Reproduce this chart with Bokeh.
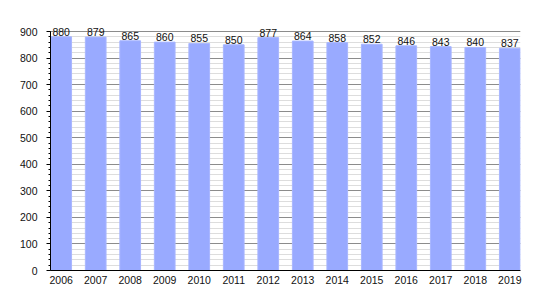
from bokeh.plotting import figure
from bokeh.models import ColumnDataSource, Range1d, FixedTicker, SingleIntervalTicker
from bokeh.embed import file_html
from bokeh.resources import INLINE
from bokeh.core.properties import value

years = ["2006", "2007", "2008", "2009", "2010", "2011", "2012",
         "2013", "2014", "2015", "2016", "2017", "2018", "2019"]
population = [880, 879, 865, 860, 855, 850, 877, 864, 858, 852, 846, 843, 840, 837]

xs = list(range(len(years)))
src = ColumnDataSource(dict(x=xs, y=population, label=[str(v) for v in population]))

# frame: 0 at y=270, 900 at y=31 -> extend range above 900 so labels fit
top_px = 15
frame_h = 270 - top_px
ymax = frame_h * 900 / 239

p = figure(width=550, height=300, output_backend="svg", toolbar_location=None,
           x_range=Range1d(-0.31, len(years) - 1 + 0.31), y_range=Range1d(0, ymax),
           min_border_left=50, min_border_right=30, min_border_top=top_px, min_border_bottom=30)
p.background_fill_color = "white"
p.border_fill_color = "white"
p.outline_line_color = None

p.vbar(x="x", top="y", width=0.6, bottom=0, source=src,
       fill_color="#99aaff", line_color="#a8b6ff", line_width=1)
p.text(x="x", y="y", text="label", source=src, text_align="center",
       text_baseline="alphabetic", y_offset=-5, text_font_size="10.5px",
       text_font=value("Liberation Sans"), text_color="#111111")

p.xaxis.ticker = FixedTicker(ticks=xs)
p.xaxis.major_label_overrides = {i: y for i, y in enumerate(years)}
p.xaxis.major_tick_line_color = None
p.xaxis.minor_tick_line_color = None
p.xaxis.axis_line_color = "black"
p.xaxis.major_label_text_font = "Liberation Sans"
p.xaxis.major_label_text_font_size = "10.5px"
p.xaxis.major_label_text_color = "#111111"
p.xaxis.major_label_standoff = -1

p.yaxis.ticker = SingleIntervalTicker(interval=100, num_minor_ticks=5)
p.yaxis.bounds = (0, 900)
p.yaxis.axis_line_color = "black"
p.yaxis.major_tick_in = 0
p.yaxis.major_tick_out = 4
p.yaxis.minor_tick_in = 0
p.yaxis.minor_tick_out = 2
p.yaxis.major_label_text_font = "Liberation Sans"
p.yaxis.major_label_text_font_size = "10.5px"
p.yaxis.major_label_text_color = "#111111"
p.yaxis.major_label_standoff = 9

p.xgrid.grid_line_color = None
p.ygrid.ticker = SingleIntervalTicker(interval=100, num_minor_ticks=5)
p.ygrid.bounds = (0, 900)
p.ygrid.grid_line_color = "#8c8c8c"
p.ygrid.grid_line_width = 1
p.ygrid.minor_grid_line_color = "#dddddd"

open("out.html", "w").write(file_html(p, INLINE))
